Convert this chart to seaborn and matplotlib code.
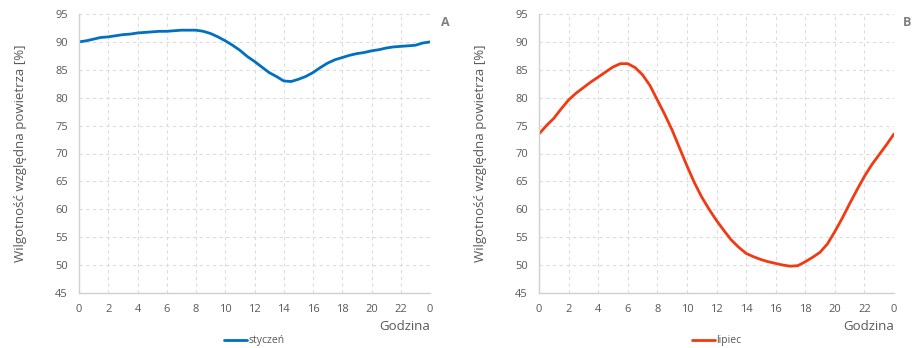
import numpy as np
import pandas as pd
import matplotlib
matplotlib.use("Agg")
import matplotlib.pyplot as plt
import seaborn as sns

hours = [0, 0.5, 1, 1.5, 2, 2.5, 3, 3.5, 4, 4.5, 5, 5.5, 6, 6.5, 7, 7.5, 8, 8.5, 9, 9.5,
         10, 10.5, 11, 11.5, 12, 12.5, 13, 13.5, 14, 14.5, 15, 15.5, 16, 16.5, 17, 17.5,
         18, 18.5, 19, 19.5, 20, 20.5, 21, 21.5, 22, 22.5, 23, 23.5, 24]

styczen = [90.0, 90.2, 90.5, 90.8, 90.9, 91.1, 91.3, 91.4, 91.6, 91.7, 91.8, 91.9, 91.9, 92.0,
           92.1, 92.1, 92.1, 91.9, 91.5, 90.9, 90.2, 89.4, 88.5, 87.4, 86.5, 85.5, 84.5, 83.8,
           83.0, 82.9, 83.3, 83.8, 84.5, 85.4, 86.2, 86.8, 87.2, 87.6, 87.9, 88.1, 88.4, 88.6,
           88.9, 89.1, 89.2, 89.3, 89.4, 89.8, 90.0]

lipiec = [73.5, 75.0, 76.3, 78.0, 79.6, 80.8, 81.8, 82.8, 83.7, 84.6, 85.5, 86.1, 86.1, 85.4,
          84.1, 82.2, 79.6, 77.0, 74.2, 71.0, 67.8, 64.8, 62.2, 60.0, 58.0, 56.2, 54.5, 53.2,
          52.1, 51.5, 51.0, 50.6, 50.3, 50.0, 49.8, 49.9, 50.6, 51.4, 52.3, 53.8, 56.0, 58.4,
          61.0, 63.5, 65.9, 68.0, 69.8, 71.6, 73.5]

xtick_pos = list(range(0, 25, 2))
xtick_labels = ["0", "2", "4", "6", "8", "10", "12", "14", "16", "18", "20", "22", "0"]
yticks = list(range(45, 96, 5))

sns.set_theme(style="white")
plt.rcParams['font.family'] = ['Open Sans', 'DejaVu Sans']

grey = "#595959"
fig = plt.figure(figsize=(9.13, 3.48), dpi=100)
ax1 = fig.add_axes([79/913, 55/348, 351/913, 279/348])
ax2 = fig.add_axes([539/913, 55/348, 355/913, 279/348])

panels = [(ax1, styczen, "styczeń", "#0070c0", "A", 445),
          (ax2, lipiec, "lipiec", "#f23a12", "B", 907)]

for ax, vals, name, color, letter, lx in panels:
    df = pd.DataFrame({"Godzina": hours, "RH": vals, "seria": name})
    sns.lineplot(data=df, x="Godzina", y="RH", hue="seria", palette=[color],
                 linewidth=2.0, ax=ax)
    ax.set_xlim(0, 24)
    ax.set_ylim(45, 95)
    ax.set_xticks(xtick_pos)
    ax.set_xticklabels(xtick_labels)
    ax.set_yticks(yticks)
    ax.grid(True, color="#dcdcdc", linestyle=(0, (3, 3)), linewidth=0.8)
    for s in ["top", "right"]:
        ax.spines[s].set_visible(False)
    for s in ["left", "bottom"]:
        ax.spines[s].set_color("#d0d0d0")
        ax.spines[s].set_linewidth(1.0)
    ax.tick_params(axis="both", colors="#d0d0d0", labelcolor=grey, labelsize=8,
                   length=3, width=0.8, direction="out", pad=5)
    ax.set_ylabel("Wilgotność względna powietrza [%]", color=grey, fontsize=9.5, labelpad=20)
    ax.set_xlabel("")
    ax.text(1.0, -0.095, "Godzina", transform=ax.transAxes, ha="right", va="top",
            color=grey, fontsize=9.5)
    leg = ax.legend(loc="center", bbox_to_anchor=(0.5, -0.172), frameon=False,
                    fontsize=7.5, handlelength=2.2, handletextpad=0.1, borderaxespad=0,
                    borderpad=0)
    for t in leg.get_texts():
        t.set_color(grey)
    fig.text(lx / 913, 1 - 22 / 348, letter, ha="center", va="center",
             fontsize=9, fontweight="bold", color="#7f7f7f")

fig.savefig("out.png", dpi=100)
